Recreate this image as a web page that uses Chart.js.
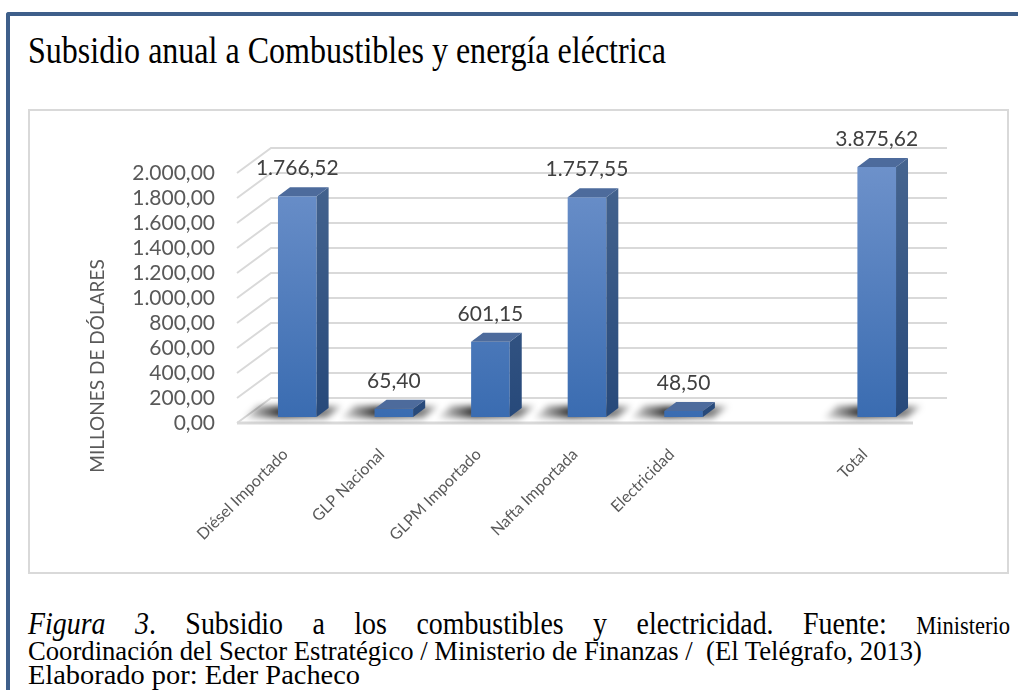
<!DOCTYPE html>
<html lang="es">
<head>
<meta charset="utf-8">
<title>Subsidio anual a Combustibles y energía eléctrica</title>
<script src="https://cdn.jsdelivr.net/npm/chart.js@4"></script>
<style>
  html, body { margin: 0; padding: 0; background: #fff; }
  body { position: relative; width: 1018px; height: 690px; overflow: hidden;
         font-family: "Liberation Serif", "Times New Roman", serif; color: #000; }
  #frame { position: absolute; left: 6px; top: 12px; right: -10px; bottom: -10px;
           border-top: 4px solid #3e5f8a; border-left: 4px solid #3e5f8a; border-top-left-radius: 3px; }
  .line { position: absolute; left: 28px; white-space: nowrap; line-height: 1; transform-origin: 0 0; }
  #title { top: 31px; font-size: 38px; }
  #box { position: absolute; left: 28px; top: 109px; width: 981px; height: 465px;
         box-sizing: border-box; border: 2px solid #d9d9d9; }
  #chart { position: absolute; left: 30px; top: 111px; }
  #cap1 { top: 608px; font-size: 31px; display: flex; justify-content: space-between; align-items: baseline; }
  #cap1 .small { font-size: 25px; }
  #cap2 { top: 637px; font-size: 28px; }
  #cap3 { top: 661px; font-size: 28px; }
</style>
</head>
<body>
<div id="frame"></div>
<div id="title" class="line">Subsidio anual a Combustibles y energía eléctrica</div>
<div id="box"></div>
<canvas id="chart" width="977" height="461"></canvas>
<div id="cap1" class="line">
  <span><i>Figura</i></span><span><i>3</i>.</span><span>Subsidio</span><span>a</span><span>los</span>
  <span>combustibles</span><span>y</span><span>electricidad.</span><span>Fuente:</span><span class="small">Ministerio</span>
</div>
<div id="cap2" class="line">Coordinación del Sector Estratégico / Ministerio de Finanzas / &nbsp;(El Telégrafo, 2013)</div>
<div id="cap3" class="line">Elaborado por: Eder Pacheco</div>

<script>
// datos
const categories = ['Diésel Importado', 'GLP Nacional', 'GLPM Importado', 'Nafta Importada', 'Electricidad', '', 'Total'];
const subsidio = [1766.52, 65.40, 601.15, 1757.55, 48.50, null, 3875.62];
const yMin = 0, yMax = 2000, yStep = 200;
const yTitle = 'MILLONES DE DÓLARES';

// profundidad del efecto 3D
const WALL_DX = 34, WALL_DY = 25;
const BAR_DX = 12, BAR_DY = 9;
const SHIFT_X = 12, SHIFT_Y = -6;

function fmt(v) {
  const parts = Number(v).toFixed(2).split('.');
  return parts[0].replace(/\B(?=(\d{3})+(?!\d))/g, '.') + ',' + parts[1];
}

function frontFill(c) {
  const area = c.chart.chartArea;
  if (!area) return '#4a7bbf';
  const g = c.chart.ctx.createLinearGradient(0, area.top, 0, area.bottom);
  g.addColorStop(0, '#6d91ca');
  g.addColorStop(1, '#3a6cb1');
  return g;
}

const threeD = {
  id: 'threeD',
  beforeDatasetsDraw(chart) {
    const { ctx, chartArea: a, scales: { y } } = chart;
    // pared del fondo, pared lateral y piso
    ctx.save();
    ctx.strokeStyle = '#d9d9d9';
    ctx.lineWidth = 2;
    for (const t of y.ticks) {
      const py = y.getPixelForValue(t.value);
      ctx.beginPath();
      ctx.moveTo(a.left, py);
      ctx.lineTo(a.left + WALL_DX, py - WALL_DY);
      ctx.lineTo(a.right + WALL_DX, py - WALL_DY);
      ctx.stroke();
    }
    ctx.lineWidth = 3;
    ctx.beginPath();
    ctx.moveTo(a.left, a.bottom);
    ctx.lineTo(a.right, a.bottom);
    ctx.stroke();
    ctx.restore();

    // las barras van un poco hacia adentro del piso
    ctx.save();
    ctx.translate(SHIFT_X, SHIFT_Y);
    chart.getDatasetMeta(0).data.forEach((bar, i) => {
      if (subsidio[i] == null) return;
      const { x, width, base } = bar.getProps(['x', 'width', 'base'], true);
      const l = x - width / 2, r = x + width / 2;
      const g = ctx.createLinearGradient(l - 38, 0, r + BAR_DX + 18, 0);
      g.addColorStop(0, 'rgba(0,0,0,0)');
      g.addColorStop(0.38, 'rgba(0,0,0,0.8)');
      g.addColorStop(0.85, 'rgba(0,0,0,0.45)');
      g.addColorStop(1, 'rgba(0,0,0,0)');
      ctx.filter = 'blur(3px)';
      ctx.fillStyle = g;
      ctx.beginPath();
      ctx.moveTo(l - 34, base + 1);
      ctx.lineTo(r + 10, base + 1);
      ctx.lineTo(r + BAR_DX + 14, base - BAR_DY - 2);
      ctx.lineTo(l - 20, base - BAR_DY - 2);
      ctx.closePath();
      ctx.fill();
      ctx.filter = 'none';
    });
  },
  afterDatasetsDraw(chart) {
    const { ctx, chartArea: a } = chart;
    chart.getDatasetMeta(0).data.forEach((bar, i) => {
      if (subsidio[i] == null) return;
      const { x, y, width, base } = bar.getProps(['x', 'y', 'width', 'base'], true);
      const l = x - width / 2, r = x + width / 2, top = Math.max(y, a.top);

      const side = ctx.createLinearGradient(0, a.top, 0, a.bottom);
      side.addColorStop(0, '#45648f');
      side.addColorStop(1, '#27497a');
      ctx.fillStyle = side;
      ctx.beginPath();
      ctx.moveTo(r, top);
      ctx.lineTo(r + BAR_DX, top - BAR_DY);
      ctx.lineTo(r + BAR_DX, base - BAR_DY);
      ctx.lineTo(r, base);
      ctx.closePath();
      ctx.fill();

      ctx.fillStyle = '#4d6b9c';
      ctx.beginPath();
      ctx.moveTo(l, top);
      ctx.lineTo(l + BAR_DX, top - BAR_DY);
      ctx.lineTo(r + BAR_DX, top - BAR_DY);
      ctx.lineTo(r, top);
      ctx.closePath();
      ctx.fill();

      ctx.fillStyle = '#404040';
      ctx.font = '21px Lato';
      ctx.textAlign = 'center';
      ctx.textBaseline = 'middle';
      ctx.fillText(fmt(subsidio[i]), x, top - 28);
    });
    ctx.restore();
  },
  afterDraw(chart) {
    const ctx = chart.ctx;
    ctx.save();
    ctx.translate(68, 255);
    ctx.rotate(-Math.PI / 2);
    ctx.fillStyle = '#595959';
    ctx.font = '19px Lato';
    ctx.textAlign = 'center';
    ctx.textBaseline = 'middle';
    ctx.fillText(yTitle, 0, 0);
    ctx.restore();
  }
};

new Chart(document.getElementById('chart'), {
  type: 'bar',
  data: {
    labels: categories,
    datasets: [{
      data: subsidio,
      backgroundColor: frontFill,
      borderWidth: 0,
      categoryPercentage: 1,
      barPercentage: 0.4,
      clip: 0
    }]
  },
  options: {
    responsive: false,
    animation: false,
    devicePixelRatio: 1,
    layout: { padding: { top: 62, right: 94, bottom: 0, left: 0 } },
    plugins: { legend: { display: false }, tooltip: { enabled: false } },
    scales: {
      x: {
        grid: { display: false, drawTicks: false },
        border: { display: false },
        ticks: {
          autoSkip: false, minRotation: 45, maxRotation: 45, padding: 22,
          color: '#595959', font: { family: 'Lato', size: 16 }
        },
        afterFit(s) { s.height = 149; }
      },
      y: {
        min: yMin, max: yMax,
        grid: { display: false, drawTicks: false },
        border: { display: false },
        ticks: {
          stepSize: yStep, autoSkip: false, padding: 22,
          color: '#595959', font: { family: 'Lato', size: 21 },
          callback: v => fmt(v)
        },
        afterFit(s) { s.width = 207; }
      }
    }
  },
  plugins: [threeD]
});

// ajustar el ancho de las lineas de texto al documento original
function fit(el, target) {
  const w = el.getBoundingClientRect().width;
  const s = target / w;
  el.style.transform = 'scaleX(' + s + ')';
  return s;
}
fit(document.getElementById('title'), 638);
fit(document.getElementById('cap2'), 894);
fit(document.getElementById('cap3'), 332);
const cap1 = document.getElementById('cap1');
cap1.style.width = (982 / 0.9) + 'px';
cap1.style.transform = 'scaleX(0.9)';
</script>
</body>
</html>
